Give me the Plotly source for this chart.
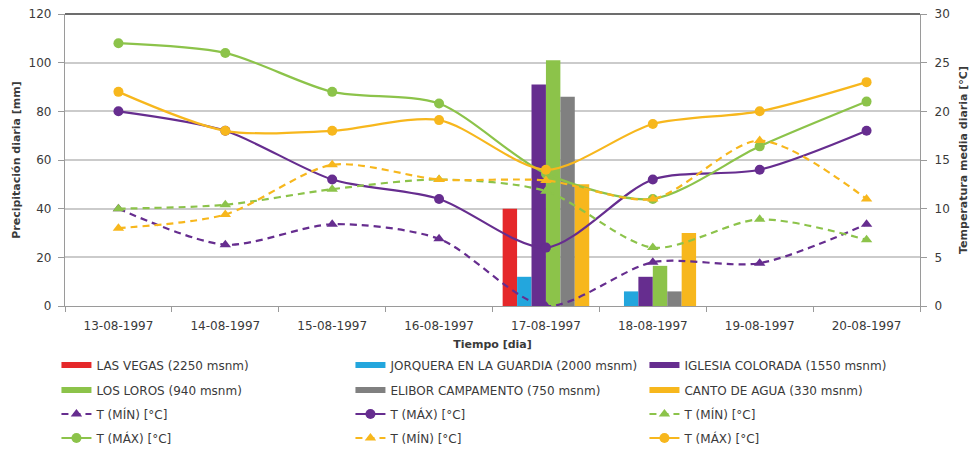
import plotly.graph_objects as go

# Categories (days)
dias = ["13-08-1997", "14-08-1997", "15-08-1997", "16-08-1997",
        "17-08-1997", "18-08-1997", "19-08-1997", "20-08-1997"]

# Daily precipitation [mm] per station
pp_las_vegas = [0, 0, 0, 0, 40, 0, 0, 0]
pp_jorquera = [0, 0, 0, 0, 12, 6, 0, 0]
pp_iglesia = [0, 0, 0, 0, 91, 12, 0, 0]
pp_los_loros = [0, 0, 0, 0, 101, 16.5, 0, 0]
pp_elibor = [0, 0, 0, 0, 86, 6, 0, 0]
pp_canto = [0, 0, 0, 0, 50, 30, 0, 0]

# Daily temperatures [°C]
tmin_iglesia = [10, 6.3, 8.4, 6.9, 0, 4.5, 4.4, 8.4]
tmax_iglesia = [20, 18, 13, 11, 6, 13, 14, 18]
tmin_loros = [10, 10.4, 12, 13, 11.8, 6, 8.9, 6.8]
tmax_loros = [27, 26, 22, 20.8, 13.6, 11, 16.4, 21]
tmin_canto = [8, 9.4, 14.5, 13, 12.9, 11, 17, 11]
tmax_canto = [22, 18, 18, 19.1, 14, 18.7, 20, 23]

nombres_pp = ["LAS VEGAS (2250 msnm)", "JORQUERA EN LA GUARDIA (2000 msnm)",
              "IGLESIA COLORADA (1550 msnm)", "LOS LOROS (940 msnm)",
              "ELIBOR CAMPAMENTO (750 msnm)", "CANTO DE AGUA (330 msnm)"]
series_pp = [pp_las_vegas, pp_jorquera, pp_iglesia, pp_los_loros, pp_elibor, pp_canto]
colores_pp = ["#e5282a", "#23a6dd", "#662d8f", "#8cc34a", "#808080", "#f7b71d"]

ROJO, AZUL, MORADO, VERDE, GRIS, AMARILLO = colores_pp

FONT = "DejaVu Sans"
TXT = "#3a3a3a"

fig = go.Figure()

# precipitation bars (left axis)
for nombre, vals, col in zip(nombres_pp, series_pp, colores_pp):
    fig.add_trace(go.Bar(x=dias, y=vals, name=nombre, marker_color=col,
                         marker_line_width=0, showlegend=False, yaxis="y"))

# legend rows 1-2: precipitation swatches
legend_rows = ["legend", "legend", "legend", "legend2", "legend2", "legend2"]
for nombre, col, lg in zip(nombres_pp, colores_pp, legend_rows):
    fig.add_trace(go.Scatter(x=[None], y=[None], mode="lines", name=nombre,
                             line=dict(color=col, width=6), legend=lg,
                             hoverinfo="skip"))

# temperature series (right axis)
temps = [
    ("T (MÍN) [°C]", tmin_iglesia, MORADO, "min", "legend3"),
    ("T (MÁX) [°C]", tmax_iglesia, MORADO, "max", "legend3"),
    ("T (MÍN) [°C]", tmin_loros, VERDE, "min", "legend3"),
    ("T (MÁX) [°C]", tmax_loros, VERDE, "max", "legend4"),
    ("T (MÍN) [°C]", tmin_canto, AMARILLO, "min", "legend4"),
    ("T (MÁX) [°C]", tmax_canto, AMARILLO, "max", "legend4"),
]
for nombre, vals, col, kind, lg in temps:
    dash = "7px,5px" if kind == "min" else "solid"
    sym = "triangle-up" if kind == "min" else "circle"
    fig.add_trace(go.Scatter(
        x=dias, y=vals, name=nombre, yaxis="y2", legend=lg,
        mode="lines+markers", line=dict(color=col, width=2.2, dash=dash,
                                        shape="spline", smoothing=0.8),
        marker=dict(symbol=sym, size=10, color=col)))

leg_common = dict(orientation="h", xanchor="left", yanchor="middle",
                  entrywidth=249, entrywidthmode="pixels",
                  font=dict(family=FONT, size=12, color=TXT),
                  bgcolor="rgba(0,0,0,0)", itemwidth=30)
H = 292.0

def ly(px):
    return (306 - px) / H

LX = -0.010
TICKFONT = dict(family=FONT, size=12, color=TXT)
TITLEFONT = dict(family=FONT, size=11, color=TXT)

fig.update_layout(
    width=971, height=449,
    margin=dict(l=65, r=51, t=14, b=143, autoexpand=False),
    paper_bgcolor="white", plot_bgcolor="white",
    barmode="group", bargap=0.19, bargroupgap=0,
    font=dict(family=FONT, size=11, color=TXT),
    xaxis=dict(type="category", tickson="boundaries", ticks="outside",
               ticklen=5, tickcolor="#9a9a9a", showline=True,
               linecolor="#9a9a9a", linewidth=1.2, ticklabelstandoff=8,
               tickfont=TICKFONT,
               title=dict(text="<b>Tiempo [dia]</b>", standoff=8,
                          font=TITLEFONT)),
    yaxis=dict(range=[0, 120], dtick=20, showgrid=True, gridcolor="#cbcbcb",
               gridwidth=1.5, showline=True, linecolor="#9a9a9a",
               linewidth=1.2, ticks="outside", ticklen=6,
               tickcolor="#9a9a9a", zeroline=False, ticklabelstandoff=4,
               tickfont=TICKFONT,
               title=dict(text="<b>Precipitación diaria [mm]</b>", standoff=5,
                          font=TITLEFONT)),
    yaxis2=dict(range=[0, 30], dtick=5, overlaying="y", side="right",
                showgrid=False, showline=True, linecolor="#9a9a9a",
                linewidth=1.2, ticks="outside", ticklen=6,
                tickcolor="#9a9a9a", zeroline=False, ticklabelstandoff=5,
                tickfont=TICKFONT,
                title=dict(text="<b>Temperatura media diaria [°C]</b>",
                           standoff=10, font=TITLEFONT)),
    legend=dict(x=LX, y=ly(365), **leg_common),
    legend2=dict(x=LX, y=ly(390), **leg_common),
    legend3=dict(x=LX, y=ly(414), **leg_common),
    legend4=dict(x=LX, y=ly(438), **leg_common),
    shapes=[dict(type="line", xref="paper", yref="paper", x0=0, x1=1,
                 y0=1, y1=1, line=dict(color="#3c3c3c", width=1.5))],
)

fig.write_html("out.html")
